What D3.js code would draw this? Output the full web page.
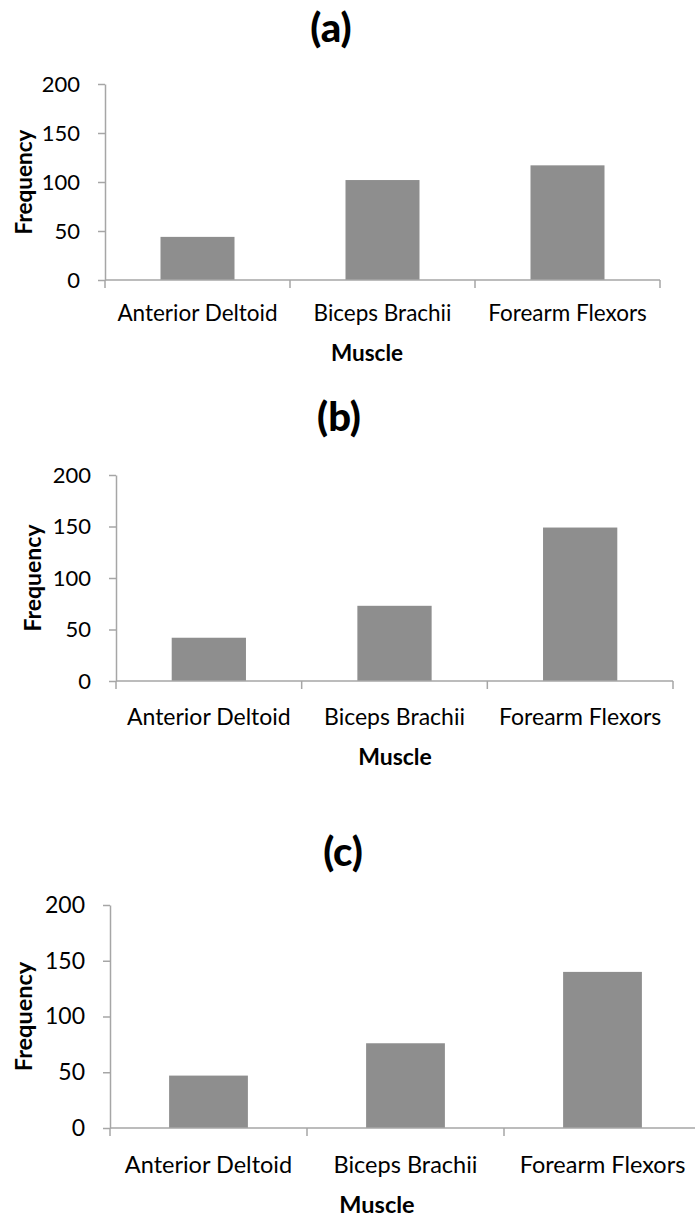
<!DOCTYPE html>
<html>
<head>
<meta charset="utf-8">
<script src="https://cdn.jsdelivr.net/npm/d3@7"></script>
<style>
  html, body { margin: 0; padding: 0; background: #fff; }
  svg { display: block; }
</style>
</head>
<body>
<svg id="chart" width="695" height="1219"></svg>
<script>
// ---- data ----
const categories = ["Anterior Deltoid", "Biceps Brachii", "Forearm Flexors"];
const valuesA = [44, 102, 117];
const valuesB = [42, 73, 149];
const valuesC = [47, 76, 140];
const yTicks = [0, 50, 100, 150, 200];
const panelTitles = ["(a)", "(b)", "(c)"];
const xAxisTitle = "Muscle";
const yAxisTitle = "Frequency";

// ---- layout (positions/sizes only) ----
const layouts = [
  { left: 105, right: 660, top: 84, bottom: 280, titleX: 331, titleY: 42, catY: 321, musX: 367, musY: 361, freqX: 24, fs: 22, cfs: 22.5 },
  { left: 116, right: 673, top: 475, bottom: 681, titleX: 339, titleY: 431, catY: 725, musX: 395, musY: 765, freqX: 33, fs: 22, cfs: 23 },
  { left: 110, right: 701, top: 905, bottom: 1128, titleX: 343, titleY: 866, catY: 1173, musX: 377, musY: 1213, freqX: 24, fs: 23, cfs: 23.5 }
];
const seriesList = [valuesA, valuesB, valuesC];

const FONT = "Lato, 'Open Sans', sans-serif";
const AXIS_COLOR = "#a6a6a6";
const BAR_COLOR = "#8e8e8e";

const svg = d3.select("#chart");

seriesList.forEach((vals, i) => {
  const L = layouts[i];
  const g = svg.append("g");

  const x = d3.scaleBand().domain(categories).range([L.left, L.right])
    .paddingInner(0.6).paddingOuter(0.3);
  const y = d3.scaleLinear().domain([0, 200]).range([L.bottom, L.top]);

  // title
  g.append("text")
    .attr("x", L.titleX).attr("y", L.titleY)
    .attr("text-anchor", "middle")
    .attr("font-family", FONT).attr("font-weight", 900)
    .attr("font-size", 40).attr("fill", "#000")
    .text(panelTitles[i]);

  // bars
  g.selectAll("rect.bar").data(vals).enter().append("rect")
    .attr("class", "bar")
    .attr("x", (d, j) => x(categories[j]))
    .attr("width", x.bandwidth())
    .attr("y", d => y(d))
    .attr("height", d => y(0) - y(d))
    .attr("fill", BAR_COLOR);

  // y axis
  const yAxis = d3.axisLeft(y).tickValues(yTicks).tickSize(7).tickSizeOuter(0).tickPadding(18);
  const ya = g.append("g").attr("transform", `translate(${L.left},0)`).call(yAxis);
  ya.select(".domain").attr("stroke", AXIS_COLOR).attr("stroke-width", 1.5);
  ya.selectAll(".tick line").attr("stroke", AXIS_COLOR).attr("stroke-width", 1.5);
  ya.selectAll(".tick text")
    .attr("font-family", FONT).attr("font-size", L.fs).attr("fill", "#000");

  // x axis line
  g.append("line")
    .attr("x1", L.left).attr("x2", L.right)
    .attr("y1", y(0)).attr("y2", y(0))
    .attr("stroke", AXIS_COLOR).attr("stroke-width", 1.5);

  // x axis boundary ticks
  const step = x.step();
  const boundaries = d3.range(categories.length + 1).map(k => L.left + k * step);
  g.selectAll("line.xt").data(boundaries).enter().append("line")
    .attr("class", "xt")
    .attr("x1", d => d).attr("x2", d => d)
    .attr("y1", y(0)).attr("y2", y(0) + 8)
    .attr("stroke", AXIS_COLOR).attr("stroke-width", 1.5);

  // category labels
  g.selectAll("text.cat").data(categories).enter().append("text")
    .attr("class", "cat")
    .attr("x", d => x(d) + x.bandwidth() / 2)
    .attr("y", L.catY)
    .attr("text-anchor", "middle")
    .attr("font-family", FONT).attr("font-size", L.cfs).attr("fill", "#000")
    .text(d => d);

  // x axis title
  g.append("text")
    .attr("x", L.musX).attr("y", L.musY)
    .attr("text-anchor", "middle")
    .attr("font-family", FONT).attr("font-weight", "bold")
    .attr("font-size", L.cfs).attr("fill", "#000")
    .text(xAxisTitle);

  // y axis title
  const cy = (L.top + L.bottom) / 2;
  g.append("text")
    .attr("transform", `translate(${L.freqX + 8},${cy}) rotate(-90)`)
    .attr("text-anchor", "middle")
    .attr("font-family", FONT).attr("font-weight", "bold")
    .attr("font-size", L.cfs).attr("fill", "#000")
    .text(yAxisTitle);
});
</script>
</body>
</html>
